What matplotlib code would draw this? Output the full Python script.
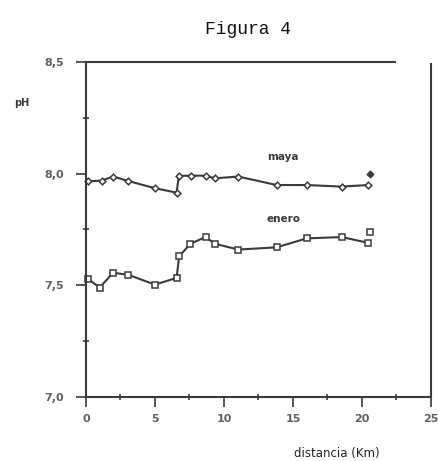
import matplotlib
matplotlib.use("Agg")
import matplotlib.pyplot as plt
from matplotlib.ticker import MultipleLocator, FixedLocator

# Distance along the transect (km) and measured pH
maya_km = [0.12, 1.14, 1.98, 3.07, 5.0, 6.57, 6.74, 7.59, 8.67, 9.35, 11.04, 13.82, 15.99, 18.53, 20.46]
maya_ph = [7.965, 7.969, 7.987, 7.967, 7.935, 7.915, 7.99, 7.991, 7.991, 7.979, 7.987, 7.949, 7.949, 7.942, 7.949]
maya_extra_km = [20.6]
maya_extra_ph = [8.00]

enero_km = [0.12, 1.0, 1.98, 3.07, 5.0, 6.57, 6.76, 7.58, 8.67, 9.35, 11.04, 13.82, 15.99, 18.53, 20.46]
enero_ph = [7.53, 7.49, 7.556, 7.547, 7.503, 7.533, 7.63, 7.686, 7.716, 7.686, 7.66, 7.67, 7.71, 7.716, 7.69]
enero_extra_km = [20.6]
enero_extra_ph = [7.74]

x_ticks = [0, 5, 10, 15, 20, 25]
y_ticks = [7.0, 7.5, 8.0, 8.5]
y_tick_labels = ["7,0", "7,5", "8,0", "8,5"]

ink = "#3a3a3a"
tick_grey = "#606060"

fig = plt.figure(figsize=(4.38, 4.61), dpi=100)
ax = fig.add_axes([0.196, 0.139, 0.788, 0.7265])

ax.plot(maya_km, maya_ph, color=ink, lw=1.5, marker="D", ms=3.4,
        mfc="white", mec=ink, mew=1.1, clip_on=False)
ax.plot(maya_extra_km, maya_extra_ph, ls="none", marker="D", ms=3.4,
        mfc=ink, mec=ink, clip_on=False)
ax.plot(enero_km, enero_ph, color=ink, lw=1.5, marker="s", ms=4.0,
        mfc="white", mec=ink, mew=1.1, clip_on=False)
ax.plot(enero_extra_km, enero_extra_ph, ls="none", marker="s", ms=4.0,
        mfc="white", mec=ink, mew=1.1, clip_on=False)

ax.set_xlim(0, 25)
ax.set_ylim(7.0, 8.5)

ax.xaxis.set_major_locator(FixedLocator(x_ticks))
ax.xaxis.set_minor_locator(MultipleLocator(2.5))
ax.yaxis.set_major_locator(FixedLocator(y_ticks))
ax.yaxis.set_minor_locator(MultipleLocator(0.25))
ax.set_yticklabels(y_tick_labels)

ax.tick_params(axis="both", which="major", direction="out", length=7, width=1.2,
               color=ink, labelcolor=tick_grey, labelsize=8)
ax.tick_params(axis="y", which="major", pad=9)
ax.tick_params(axis="x", which="major", pad=5)
ax.tick_params(axis="both", which="minor", direction="inout", length=4, width=1.2, color=ink)

for side in ["left", "bottom", "right", "top"]:
    ax.spines[side].set_color(ink)
    ax.spines[side].set_linewidth(1.5)
ax.spines["top"].set_bounds(0, 22.4)
ax.spines["right"].set_bounds(7.0, 8.49)

for lbl in ax.get_xticklabels() + ax.get_yticklabels():
    lbl.set_fontweight("bold")

ax.text(14.3, 8.075, "maya", ha="center", va="center", fontsize=7.5,
        color=ink, fontweight="bold")
ax.text(14.3, 7.797, "enero", ha="center", va="center", fontsize=7.5,
        color=ink, fontweight="bold")

fig.text(0.05, 0.777, "pH", ha="center", va="center", fontsize=7,
         color=ink, fontweight="bold")
fig.text(0.567, 0.937, "Figura 4", ha="center", va="center", fontsize=13,
         family="Liberation Mono", color="#111111")
fig.text(0.77, 0.017, "distancia (Km)", ha="center", va="center", fontsize=8.5,
         family="DejaVu Sans", color="#222222")

fig.savefig("out.png", dpi=100, facecolor="white")
